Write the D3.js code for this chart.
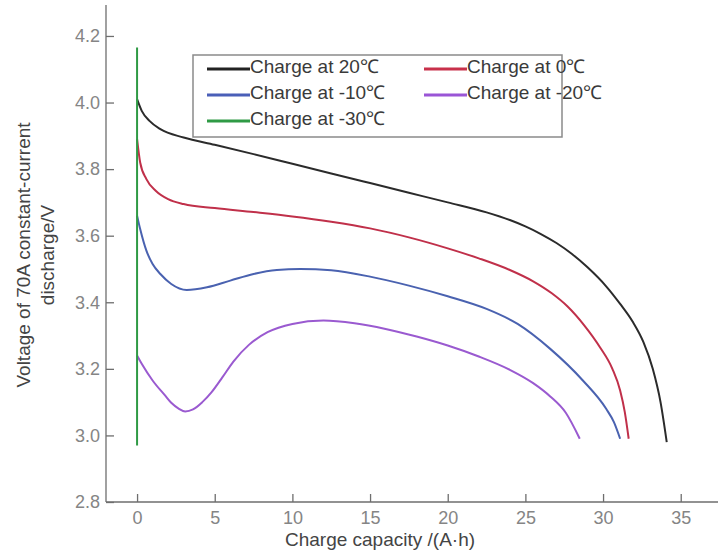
<!DOCTYPE html>
<html><head><meta charset="utf-8">
<script src="https://cdn.jsdelivr.net/npm/d3@7"></script>
<style>
body{margin:0;background:#fff;}
svg{display:block;font-family:"Liberation Sans",Arial,sans-serif;}
</style></head>
<body><svg id="c" width="718" height="552"></svg>
<script>
const seriesNames = ["Charge at 20℃","Charge at 0℃","Charge at -10℃","Charge at -20℃","Charge at -30℃"];
const seriesColors = ["#2b2b2b","#c0304a","#4a62b0","#9a5ad0","#2f9a45"];
const legendColors = ["#222222","#c8304a","#4a5fb8","#9a55d6","#2f9a45"];
const xTicks = [0,5,10,15,20,25,30,35];
const yTicks = [2.8,3.0,3.2,3.4,3.6,3.8,4.0,4.2];
const s20 = [[0,4.01],[0.3,3.975],[0.8,3.945],[1.5,3.92],[3,3.895],[5,3.873],[7.5,3.845],[10,3.816],[12.5,3.787],[15,3.758],[17.5,3.729],[20,3.70],[22.5,3.67],[24,3.647],[25,3.628],[26,3.605],[27,3.578],[28,3.545],[29,3.505],[30.2,3.448],[31.1,3.395],[31.9,3.342],[32.6,3.28],[33.2,3.2],[33.7,3.1],[34.1,2.98]];
const s0 = [[0,3.89],[0.2,3.82],[0.6,3.77],[1.2,3.735],[2,3.71],[3,3.695],[5,3.683],[7.5,3.671],[10,3.658],[12.5,3.642],[15,3.622],[17.5,3.595],[20,3.562],[22,3.532],[24,3.497],[25.5,3.463],[26.7,3.427],[27.7,3.388],[28.8,3.33],[29.8,3.265],[30.6,3.2],[31.1,3.135],[31.4,3.07],[31.65,2.99]];
const sm10 = [[0,3.66],[0.2,3.62],[0.6,3.555],[1.0,3.515],[1.5,3.485],[2.2,3.455],[3.2,3.437],[4.5,3.445],[6,3.465],[7.5,3.485],[9,3.497],[10.5,3.50],[12.5,3.496],[15,3.477],[17.5,3.45],[20,3.418],[22.5,3.38],[24.5,3.335],[26.6,3.26],[28.7,3.165],[30.2,3.08],[30.7,3.04],[31.1,2.99]];
const sm20 = [[0,3.24],[0.3,3.215],[1,3.165],[1.8,3.12],[2.2,3.098],[2.7,3.08],[3.1,3.072],[3.6,3.078],[4.2,3.10],[4.8,3.13],[5.5,3.175],[6.2,3.222],[7.2,3.272],[8.4,3.31],[10,3.335],[12,3.345],[14,3.337],[16,3.32],[18,3.297],[20,3.27],[22,3.237],[24,3.197],[25.5,3.157],[26.6,3.117],[27.6,3.068],[28.5,2.99]];
const sm30 = [[0,4.165],[0,2.97]];
const allSeries = [s20,s0,sm10,sm20,sm30];

const svg = d3.select("#c");
const x = d3.scaleLinear().domain([-2,37.4]).range([106,718]);
const y = d3.scaleLinear().domain([2.8,4.29]).range([502,6]);
const axisCol = "#6e6e6e", labelCol = "#858585";

const gx = svg.append("g").attr("transform","translate(0,502)");
gx.call(d3.axisBottom(x).tickValues(d3.range(0,37,2.5).filter(v=>v%5!==0)).tickSize(-4).tickFormat(""));
gx.call(d3.axisBottom(x).tickValues(xTicks).tickSize(-8).tickPadding(9).tickFormat(d3.format("d")));
gx.selectAll("path,line").attr("stroke",axisCol).attr("stroke-width",1.3);
gx.selectAll("text").attr("fill",labelCol).attr("font-size",18).attr("font-family","Liberation Sans, Arial, sans-serif");

const gy = svg.append("g").attr("transform","translate(106,0)");
gy.call(d3.axisLeft(y).tickValues(d3.range(2.9,4.3,0.2)).tickSize(-4).tickFormat(""));
gy.call(d3.axisLeft(y).tickValues(yTicks).tickSize(-8).tickPadding(6).tickFormat(d3.format(".1f")));
gy.selectAll("path,line").attr("stroke",axisCol).attr("stroke-width",1.3);
gy.selectAll("text").attr("fill",labelCol).attr("font-size",18).attr("font-family","Liberation Sans, Arial, sans-serif");
gy.select(".domain").attr("d","M0,502V5");
gx.select(".domain").attr("d","M106,0H718");

const line = d3.line().x(d=>x(d[0])).y(d=>y(d[1])).curve(d3.curveMonotoneX);
const vline = d3.line().x(d=>x(d[0])).y(d=>y(d[1]));
allSeries.forEach((s,i)=>{
  svg.append("path").datum(s).attr("d", i===4 ? vline : line).attr("fill","none")
    .attr("stroke",seriesColors[i]).attr("stroke-width",2);
});

const lg = svg.append("g");
lg.append("rect").attr("x",193).attr("y",55).attr("width",369).attr("height",82)
  .attr("fill","#fff").attr("stroke","#8a8a8a").attr("stroke-width",1.5);
const lpos = [[207,69],[424,69],[207,95],[424,95],[207,121]];
seriesNames.forEach((n,i)=>{
  const [lx,ly]=lpos[i];
  lg.append("line").attr("x1",lx).attr("x2",lx+43).attr("y1",ly).attr("y2",ly)
    .attr("stroke",legendColors[i]).attr("stroke-width",3);
  lg.append("text").attr("x",lx+43).attr("y",ly+4).attr("font-size",19).attr("fill","#3a3a3a").text(n);
});

svg.append("text").attr("x",380).attr("y",546).attr("text-anchor","middle")
  .attr("font-size",19).attr("fill","#444").text("Charge capacity /(A·h)");
const yt = svg.append("text").attr("transform","translate(0,255) rotate(-90)")
  .attr("text-anchor","middle").attr("font-size",19).attr("fill","#444");
yt.append("tspan").attr("x",0).attr("y",30).text("Voltage of 70A constant-current");
yt.append("tspan").attr("x",0).attr("y",54).text("discharge/V");
</script></body></html>
